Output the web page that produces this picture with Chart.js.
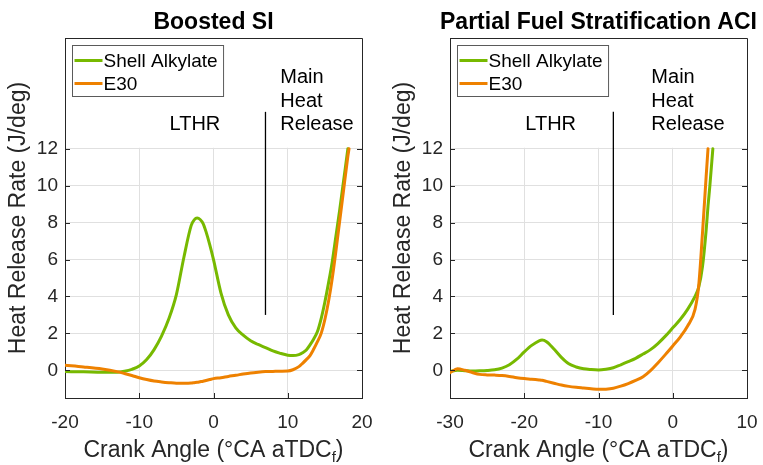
<!doctype html>
<html>

<head>
    <title>Heat Release Rate</title>
    <script src="https://cdn.jsdelivr.net/npm/chart.js"></script>
    <style>
        body { margin: 0; background: #fff; }
        .panel { position: absolute; top: 0; height: 465px; }
    </style>
</head>

<body>
    <div class="panel" style="left:0;width:380px"><canvas id="siChart" width="380" height="465"></canvas></div>
    <div class="panel" style="left:380px;width:383px"><canvas id="aciChart" width="383" height="465"></canvas></div>
    <script>
        const seriesNames = ['Shell Alkylate', 'E30'];
        const seriesColors = ['#77b900', '#ee8100'];
        const hrrTicks = [0, 2, 4, 6, 8, 10, 12];

        // Boosted SI
        const siAngle = [-20, -17.5, -15, -13, -12, -11, -10, -9, -8, -7,
            -6, -5, -4, -3, -2.6, -2.2, -1.8, -1.4, -1, -0.5,
            0, 1, 2, 3, 4, 5, 6, 7, 8, 9,
            10, 10.7, 11.5, 12, 12.5, 13, 13.5, 14, 14.5, 15,
            15.5, 16, 16.5, 17, 17.5, 18, 18.1, 18.25];
        const siShell = [-0.07, -0.08, -0.1, -0.1, -0.05, 0.05, 0.23, 0.58, 1.12, 1.85,
            2.8, 4.1, 6.1, 7.85, 8.15, 8.25, 8.17, 7.95, 7.5, 6.8,
            6.0, 4.2, 3.0, 2.3, 1.9, 1.6, 1.4, 1.23, 1.05, 0.92,
            0.82, 0.8, 0.85, 0.95, 1.1, 1.38, 1.7, 2.1, 2.8, 3.7,
            4.75, 5.9, 7.3, 8.7, 10.2, 11.7, 12, null];
        const siE30 = [0.27, 0.18, 0.07, -0.07, -0.17, -0.28, -0.4, -0.5, -0.58, -0.63,
            -0.67, -0.7, -0.7, -0.69, -0.67, -0.65, -0.62, -0.59, -0.55, -0.5,
            -0.45, -0.4, -0.33, -0.27, -0.2, -0.14, -0.1, -0.07, -0.06, -0.05,
            -0.04, 0.03, 0.2, 0.38, 0.58, 0.8, 1.15, 1.55, 2.0, 2.75,
            3.75, 5.0, 6.5, 8.1, 9.7, 11.3, 11.6, 12];
        const siTicks = [-20, -10, 0, 10, 20];
        const siMarker = [[7, 3], [7, 14]];

        // Partial Fuel Stratification ACI
        const aciAngle = [-30, -29, -28, -27, -26, -25, -24, -23, -22, -21, -20, -19, -18, -17.6, -17, -16, -15, -14, -13, -12,
            -11, -10, -9, -8, -7, -6, -5, -4, -3, -2, -1, 0, 1, 2, 3, 3.5, 4, 4.5, 4.75, 5, 5.4];
        const aciShell = [-0.07, 0.0, -0.02, -0.04, -0.03, -0.01, 0.03, 0.12, 0.3, 0.6, 1.0, 1.35, 1.6, 1.64, 1.55, 1.15, 0.7, 0.35, 0.18, 0.08,
            0.04, 0.02, 0.06, 0.14, 0.3, 0.47, 0.65, 0.88, 1.12, 1.45, 1.85, 2.3, 2.75, 3.3, 4.0, 4.5, 5.6, 7.6, 8.9, 10.0, 12];
        const aciE30 = [-0.13, 0.08, 0.0, -0.12, -0.22, -0.25, -0.26, -0.28, -0.33, -0.4, -0.45, -0.48, -0.52, -0.54, -0.6, -0.7, -0.8, -0.87, -0.92, -0.96,
            -1.0, -1.03, -1.02, -0.97, -0.86, -0.72, -0.55, -0.35, -0.02, 0.4, 0.85, 1.32, 1.8, 2.4, 3.3, 4.6, 7.4, 10.5, 12, null, null];
        const aciTicks = [-30, -20, -10, 0, 10];
        const aciMarker = [[-8, 3], [-8, 14]];

        const fontFamily = "'Liberation Sans', Arial, sans-serif";
        const inkColor = '#262626';
        const gridColor = '#e0e0e0';

        // MATLAB-like decorations: mask above 12, box, inward ticks, legend, notes, titles
        const panelDecor = {
            id: 'panelDecor',
            beforeDatasetsDraw(chart, args, opts) {
                const { ctx, chartArea: a, scales: { y } } = chart;
                const yCut = y.getPixelForValue(opts.maskFrom);
                ctx.save();
                ctx.fillStyle = '#fff';
                ctx.fillRect(a.left + 1, a.top, a.right - a.left - 1, yCut - a.top - 1);
                ctx.restore();
            },
            afterDatasetsDraw(chart, args, opts) {
                const { ctx, chartArea: a, scales: { x, y } } = chart;
                ctx.save();
                ctx.strokeStyle = inkColor;
                ctx.lineWidth = 1;
                ctx.beginPath();
                y.ticks.forEach(t => {
                    const py = Math.round(y.getPixelForValue(t.value)) + 0.5;
                    ctx.moveTo(a.left, py); ctx.lineTo(a.left + 5, py);
                    ctx.moveTo(a.right, py); ctx.lineTo(a.right - 5, py);
                });
                x.ticks.forEach(t => {
                    const px = Math.round(x.getPixelForValue(t.value)) + 0.5;
                    ctx.moveTo(px, a.bottom); ctx.lineTo(px, a.bottom - 5);
                });
                // top and right box edges
                ctx.moveTo(Math.round(a.left) + 0.5, Math.round(a.top) + 0.5);
                ctx.lineTo(Math.round(a.right) + 0.5, Math.round(a.top) + 0.5);
                ctx.lineTo(Math.round(a.right) + 0.5, Math.round(a.bottom) + 0.5);
                ctx.stroke();

                // legend
                ctx.font = '19px ' + fontFamily;
                const lx = Math.round(a.left) + 7.5, ly = Math.round(a.top) + 7.5;
                const textW = Math.max(...seriesNames.map(n => ctx.measureText(n).width));
                ctx.fillStyle = '#fff';
                ctx.fillRect(lx, ly, 34 + textW + 3, 51);
                ctx.strokeStyle = '#5a5a5a';
                ctx.strokeRect(lx, ly, 34 + textW + 3, 51);
                ctx.textBaseline = 'middle';
                ctx.textAlign = 'left';
                chart.data.datasets.slice(0, 2).forEach((ds, i) => {
                    const ry = ly + 15 + i * 23;
                    ctx.strokeStyle = ds.borderColor;
                    ctx.lineWidth = 3;
                    ctx.beginPath();
                    ctx.moveTo(lx + 2, ry); ctx.lineTo(lx + 30, ry);
                    ctx.stroke();
                    ctx.fillStyle = '#000';
                    ctx.fillText(ds.label, lx + 31, ry + 1);
                });

                // region notes
                ctx.font = '20px ' + fontFamily;
                ctx.fillStyle = '#000';
                ctx.textBaseline = 'alphabetic';
                opts.notes.forEach(n => {
                    ctx.textAlign = n.align;
                    ctx.fillText(n.text, x.getPixelForValue(n.x), y.getPixelForValue(n.y));
                });

                // panel title
                ctx.font = 'bold 23px ' + fontFamily;
                ctx.textAlign = 'center';
                ctx.fillText(opts.title, (a.left + a.right) / 2, 29);

                // x axis title with subscript f
                const mainFont = '23px ' + fontFamily, subFont = '15px ' + fontFamily;
                const p1 = 'Crank Angle (\u00b0CA aTDC', p2 = 'f', p3 = ')';
                ctx.font = mainFont;
                const w1 = ctx.measureText(p1).width, w3 = ctx.measureText(p3).width;
                ctx.font = subFont;
                const w2 = ctx.measureText(p2).width;
                let tx = (a.left + a.right) / 2 - (w1 + w2 + w3) / 2;
                const ty = 457;
                ctx.textAlign = 'left';
                ctx.fillStyle = inkColor;
                ctx.font = mainFont; ctx.fillText(p1, tx, ty); tx += w1;
                ctx.font = subFont; ctx.fillText(p2, tx, ty + 5); tx += w2;
                ctx.font = mainFont; ctx.fillText(p3, tx, ty);
                ctx.restore();
            }
        };

        function makePanel(id, cfg) {
            const ctx = document.getElementById(id).getContext('2d');
            const line = (label, xs, ys, color, order) => ({
                label: label,
                data: xs.map((a, i) => ({ x: a, y: ys[i] })),
                borderColor: color,
                borderWidth: 3,
                borderJoinStyle: 'round',
                borderCapStyle: 'round',
                pointRadius: 0,
                cubicInterpolationMode: 'monotone',
                fill: false,
                order: order
            });
            return new Chart(ctx, {
                type: 'line',
                data: {
                    datasets: [
                        line(seriesNames[0], cfg.angle, cfg.shell, seriesColors[0], 2),
                        line(seriesNames[1], cfg.angle, cfg.e30, seriesColors[1], 1),
                        {
                            label: 'divider',
                            data: cfg.marker.map(p => ({ x: p[0], y: p[1] })),
                            borderColor: '#000',
                            borderWidth: 1.3,
                            pointRadius: 0,
                            tension: 0,
                            order: 0
                        }
                    ]
                },
                options: {
                    responsive: false,
                    animation: false,
                    events: [],
                    layout: { padding: { left: cfg.padLeft, right: cfg.padRight, top: 38, bottom: 0 } },
                    plugins: {
                        legend: { display: false },
                        tooltip: { enabled: false },
                        panelDecor: { title: cfg.title, notes: cfg.notes, maskFrom: 12 }
                    },
                    scales: {
                        x: {
                            type: 'linear',
                            min: cfg.xTicks[0],
                            max: cfg.xTicks[cfg.xTicks.length - 1],
                            afterBuildTicks: s => { s.ticks = cfg.xTicks.map(v => ({ value: v })); },
                            // fixed height; label overflow is covered by the layout padding
                            afterFit: s => { s.height = 67; s.paddingLeft = 0; s.paddingRight = 0; },
                            grid: { color: gridColor, drawTicks: false },
                            border: { color: inkColor },
                            ticks: { font: { family: fontFamily, size: 19 }, color: inkColor, padding: 13, maxRotation: 0 }
                        },
                        y: {
                            min: -1.5,
                            max: 18,
                            afterBuildTicks: s => { s.ticks = hrrTicks.map(v => ({ value: v })); },
                            afterFit: s => { s.width = 65; },
                            grid: { color: gridColor, drawTicks: false },
                            border: { color: inkColor },
                            ticks: { font: { family: fontFamily, size: 19 }, color: inkColor, padding: 7 },
                            title: {
                                display: true,
                                text: 'Heat Release Rate (J/deg)',
                                font: { family: fontFamily, size: 23 },
                                color: inkColor,
                                padding: { top: 5, bottom: 0 }
                            }
                        }
                    }
                },
                plugins: [panelDecor]
            });
        }

        makePanel('siChart', {
            title: 'Boosted SI',
            angle: siAngle, shell: siShell, e30: siE30,
            xTicks: siTicks, marker: siMarker,
            padLeft: 0, padRight: 18,
            notes: [
                { text: 'LTHR', x: -2.5, y: 13.0, align: 'center' },
                { text: 'Main', x: 9, y: 15.55, align: 'left' },
                { text: 'Heat', x: 9, y: 14.25, align: 'left' },
                { text: 'Release', x: 9, y: 13.0, align: 'left' }
            ]
        });

        makePanel('aciChart', {
            title: 'Partial Fuel Stratification ACI',
            angle: aciAngle, shell: aciShell, e30: aciE30,
            xTicks: aciTicks, marker: aciMarker,
            padLeft: 5, padRight: 16,
            notes: [
                { text: 'LTHR', x: -16.44, y: 13.0, align: 'center' },
                { text: 'Main', x: -2.88, y: 15.55, align: 'left' },
                { text: 'Heat', x: -2.88, y: 14.25, align: 'left' },
                { text: 'Release', x: -2.88, y: 13.0, align: 'left' }
            ]
        });
    </script>
</body>

</html>
